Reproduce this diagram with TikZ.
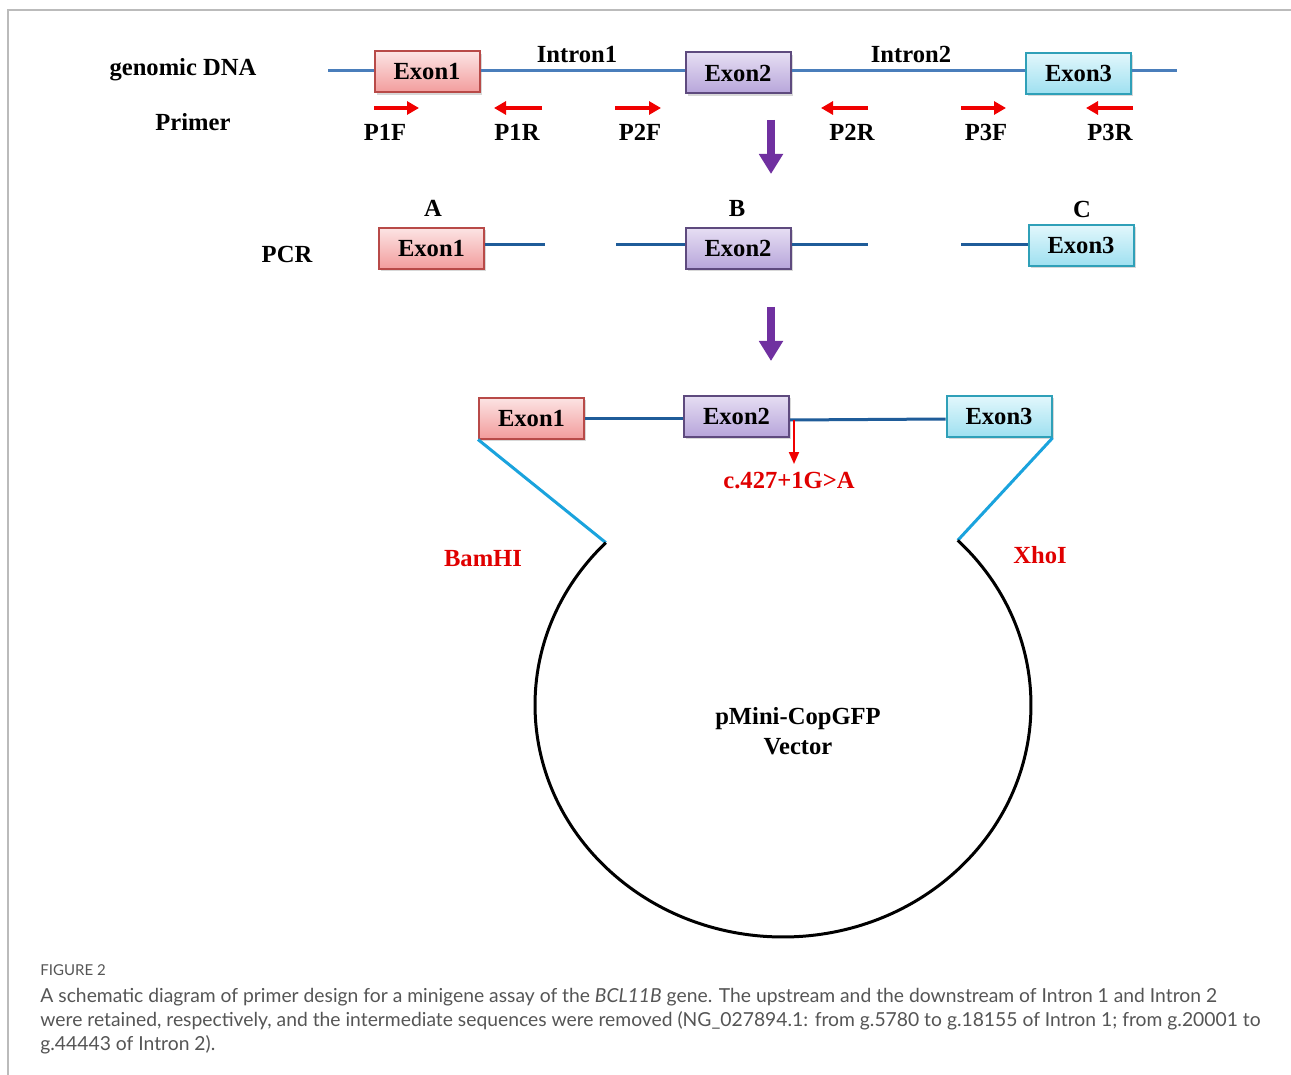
\documentclass[tikz,border=0pt]{standalone}
\usepackage{fontspec}
\setmainfont{Liberation Serif}
\newfontfamily\capfont{Lato}
\usetikzlibrary{arrows.meta,shadows}
\definecolor{dnablue}{HTML}{4A7EBB}
\definecolor{pcrblue}{HTML}{1F5C99}
\definecolor{cyanline}{HTML}{1AA3DD}
\definecolor{primred}{HTML}{F00000}
\definecolor{labred}{HTML}{E00000}
\definecolor{arrpurple}{HTML}{7030A0}
\definecolor{capgray}{HTML}{555555}
\definecolor{framegray}{HTML}{BBBBBB}
\definecolor{eAtop}{HTML}{FCE4E4}
\definecolor{eAbot}{HTML}{F29C9C}
\definecolor{eAdraw}{HTML}{B84A48}
\definecolor{eBtop}{HTML}{E6DEF3}
\definecolor{eBbot}{HTML}{B7A5DA}
\definecolor{eBdraw}{HTML}{5E4A7E}
\definecolor{eCtop}{HTML}{E2F7FC}
\definecolor{eCbot}{HTML}{9EE0F0}
\definecolor{eCdraw}{HTML}{2FA0B8}
\tikzset{
  lbl/.style={font=\fontsize{12.3}{14}\selectfont\bfseries, inner sep=0pt},
  redlbl/.style={lbl, text=labred},
  exonbox/.style={lbl, minimum width=52.5pt, minimum height=20.5pt, line width=1pt,
    drop shadow={shadow xshift=1.2pt, shadow yshift=-1.2pt, opacity=0.3}},
  exonA/.style={exonbox, draw=eAdraw, top color=eAtop, bottom color=eAbot},
  exonB/.style={exonbox, draw=eBdraw, top color=eBtop, bottom color=eBbot},
  exonC/.style={exonbox, draw=eCdraw, top color=eCtop, bottom color=eCbot},
  dnaline/.style={draw=dnablue, line width=1.5pt},
  pcrline/.style={draw=pcrblue, line width=1.5pt},
  primer/.style={draw=primred, line width=2pt, -{Triangle[length=6pt,width=6.5pt]}},
  bigarrow/.style={draw=arrpurple, line width=4pt, -{Triangle[length=10pt,width=11.5pt]}},
  mutarrow/.style={draw=primred, line width=1pt, -{Triangle[length=6pt,width=5pt]}},
  cutline/.style={draw=cyanline, line width=1.5pt},
  vecline/.style={draw=black, line width=1.5pt},
  captxt/.style={font=\capfont\fontsize{9.65}{11}\selectfont, text=capgray, inner sep=0pt, anchor=base west}
}
\begin{document}
\begin{tikzpicture}[x=0.5pt,y=0.5pt]
\useasboundingbox (0,0) rectangle (1291,-1075);
\fill[white] (0,0) rectangle (1291,-1075);
% frame
\draw[framegray, line width=0.6pt] (8,-1075) -- (8,-10) -- (1291,-10);

% ---------- genomic DNA row ----------
\node[lbl] (gdna) at (183,-70) {genomic DNA};
\node[lbl] (prim) at (193,-122) {Primer};
\coordinate (dnaL) at (328,-71);
\coordinate (dnaR) at (1177,-71);
\node[exonA] (t1) at (427,-72) {Exon1};
\node[exonB] (t2) at (738,-73) {Exon2};
\node[exonC] (t3) at (1078.5,-73.5) {Exon3};
\draw[dnaline] (dnaL) -- (t1.west |- dnaL);
\draw[dnaline] (t1.east |- dnaL) -- (t2.west |- dnaL);
\draw[dnaline] (t2.east |- dnaL) -- (t3.west |- dnaL);
\draw[dnaline] (t3.east |- dnaR) -- (dnaR);
\node[lbl] (in1) at (577,-55) {Intron1};
\node[lbl] (in2) at (911,-54) {Intron2};

% primers
\coordinate (p1fa) at (374,-108); \coordinate (p1fb) at (419,-108);
\coordinate (p1ra) at (542,-108); \coordinate (p1rb) at (494,-108);
\coordinate (p2fa) at (615,-108); \coordinate (p2fb) at (661,-108);
\coordinate (p2ra) at (868,-108); \coordinate (p2rb) at (821,-108);
\coordinate (p3fa) at (961,-108); \coordinate (p3fb) at (1006,-108);
\coordinate (p3ra) at (1133,-108); \coordinate (p3rb) at (1086,-108);
\draw[primer] (p1fa) -- (p1fb);
\draw[primer] (p1ra) -- (p1rb);
\draw[primer] (p2fa) -- (p2fb);
\draw[primer] (p2ra) -- (p2rb);
\draw[primer] (p3fa) -- (p3fb);
\draw[primer] (p3ra) -- (p3rb);
\node[lbl] (l1f) at (385,-132) {P1F};
\node[lbl] (l1r) at (517,-132) {P1R};
\node[lbl] (l2f) at (640,-132) {P2F};
\node[lbl] (l2r) at (852,-132) {P2R};
\node[lbl] (l3f) at (986,-132) {P3F};
\node[lbl] (l3r) at (1110,-132) {P3R};

% arrow 1
\coordinate (a1s) at (771,-120);
\coordinate (a1e) at (771,-174);
\draw[bigarrow] (a1s) -- (a1e);

% ---------- PCR row ----------
\node[lbl] (pcr) at (287,-254) {PCR};
\node[lbl] (la) at (433,-208) {A};
\node[lbl] (lb) at (737,-208) {B};
\node[lbl] (lc) at (1082,-209) {C};
\node[exonA] (m1) at (431.5,-248.5) {Exon1};
\node[exonB] (m2) at (738,-248.5) {Exon2};
\node[exonC] (m3) at (1081,-245.5) {Exon3};
\coordinate (m1r) at (545,-245);
\coordinate (m2l) at (616,-245);
\coordinate (m2r) at (868,-245);
\coordinate (m3l) at (961,-245);
\draw[pcrline] (m1.east |- m1r) -- (m1r);
\draw[pcrline] (m2l) -- (m2.west |- m2l);
\draw[pcrline] (m2.east |- m2r) -- (m2r);
\draw[pcrline] (m3l) -- (m3.west |- m3l);

% arrow 2
\coordinate (a2s) at (771,-307);
\coordinate (a2e) at (771,-361);
\draw[bigarrow] (a2s) -- (a2e);

% ---------- minigene row ----------
\node[exonA] (b1) at (531.5,-418) {Exon1};
\node[exonB] (b2) at (736.5,-416) {Exon2};
\node[exonC] (b3) at (999,-416.5) {Exon3};
\draw[pcrline] (b1.east) -- (b2.west |- b1.east);
\draw[pcrline] (b2.east |- 0,-420) -- (b3.west |- 0,-419);
\coordinate (mutS) at (794,-420);
\node[redlbl] (mut) at (789,-481) {c.427+1G>A};
\draw[mutarrow] (mutS) -- (mutS |- 0,-464);

% vector
\coordinate (cen) at (783,-705);
\path (cen) ++(135.6:248 and 232) coordinate (cl);
\path (cen) ++(45.2:248 and 232) coordinate (cr);
\draw[cutline] (b1.south west) -- (cl);
\draw[cutline] (b3.south east) -- (cr);
\draw[vecline] (cl) arc[start angle=135.6, end angle=405.2, x radius=248, y radius=232];
\node[redlbl] (bam) at (483,-559) {BamHI};
\node[redlbl] (xho) at (1040,-555) {XhoI};
\node[lbl, align=center] (vec) at (798,-731) {pMini-CopGFP\\[1pt]Vector};

% ---------- caption ----------
\node[captxt, font=\capfont\fontsize{7.5}{9}\selectfont, text=capgray] (fig) at (40,-975) {FIGURE 2};
\node[captxt] (c1) at (40,-1002) {A schematic diagram of primer design for a minigene assay of the \textit{BCL11B} gene. The upstream and the downstream of Intron 1 and Intron 2};
\node[captxt] (c2) at (40,-1026) {were retained, respectively, and the intermediate sequences were removed (NG\_027894.1: from g.5780 to g.18155 of Intron 1; from g.20001 to};
\node[captxt] (c3) at (40,-1050) {g.44443 of Intron 2).};
\end{tikzpicture}
\end{document}
